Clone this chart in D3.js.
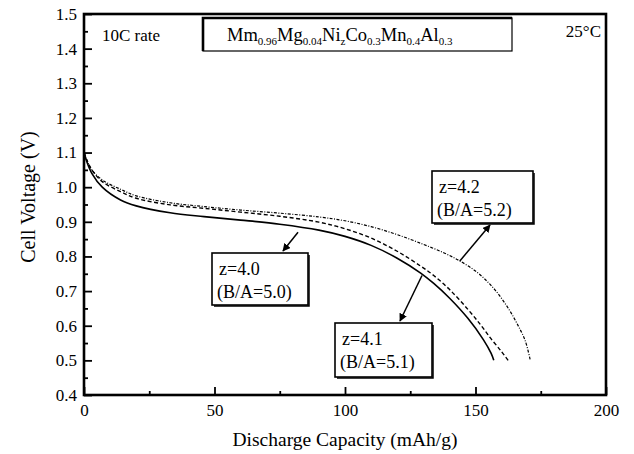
<!DOCTYPE html>
<html>
<head>
<meta charset="utf-8">
<script src="https://cdn.jsdelivr.net/npm/d3@7"></script>
<style>
  body { margin: 0; background: #fff; }
</style>
</head>
<body>
<div id="chart"></div>
<script>
// ------------------------------------------------------------------
//  discharge curves, 10C rate, 25 C
// ------------------------------------------------------------------
const cap_z40 = [0, 1, 3, 7, 14, 20, 33, 46, 60, 75, 90, 100, 110, 120, 129, 134, 140, 147, 153, 156, 157]
const volt_z40 = [1.10, 1.075, 1.04, 1.00, 0.963, 0.946, 0.926, 0.915, 0.905, 0.893, 0.876, 0.858, 0.832, 0.795, 0.752, 0.722, 0.680, 0.622, 0.560, 0.52, 0.50]

const cap_z41 = [0, 1, 3, 7, 14, 20, 33, 46, 60, 75, 90, 100, 110, 120, 129, 134, 140, 147, 152, 156, 160, 162.5]
const volt_z41 = [1.10, 1.08, 1.05, 1.016, 0.987, 0.968, 0.949, 0.939, 0.928, 0.916, 0.899, 0.880, 0.853, 0.815, 0.772, 0.745, 0.705, 0.648, 0.602, 0.562, 0.525, 0.50]

const cap_z42 = [0, 1, 3, 7, 14, 20, 33, 46, 60, 75, 90, 100, 110, 120, 130, 138, 144, 150, 155, 159, 163, 166, 169, 171]
const volt_z42 = [1.10, 1.08, 1.05, 1.021, 0.994, 0.975, 0.955, 0.944, 0.934, 0.925, 0.914, 0.903, 0.886, 0.863, 0.835, 0.810, 0.787, 0.758, 0.724, 0.689, 0.645, 0.605, 0.558, 0.50]

const x_ticks = [0, 50, 100, 150, 200]
const x_minor = [25, 75, 125, 175]
const y_ticks = [0.4, 0.5, 0.6, 0.7, 0.8, 0.9, 1.0, 1.1, 1.2, 1.3, 1.4, 1.5]
const y_minor = [0.45, 0.55, 0.65, 0.75, 0.85, 0.95, 1.05, 1.15, 1.25, 1.35, 1.45]

const series = [
	{name: "z40", cap: cap_z40, volt: volt_z40, dash: null, width: 1.6},
	{name: "z41", cap: cap_z41, volt: volt_z41, dash: "4,2.5", width: 1.4},
	{name: "z42", cap: cap_z42, volt: volt_z42, dash: "3,1.5,1,1.5", width: 1.2}
]

// label boxes: line1, line2, box (px), arrow from curve point (data) to box (px)
const labels = [
	{l1: "z=4.0", l2: "(B/A=5.0)", box: [212, 253, 96, 52], from: [82, 0.870], to: [283, 251]},
	{l1: "z=4.2", l2: "(B/A=5.2)", box: [432, 171, 101, 52], from: [144, 0.787], to: [490, 225]},
	{l1: "z=4.1", l2: "(B/A=5.1)", box: [335, 323, 97, 54], from: [129.5, 0.745], to: [400, 321]}
]

const FONT = "'Liberation Serif', 'Times New Roman', Times, serif"
const W = 634, H = 454
const margin = {top: 14, right: 28, bottom: 59, left: 84}

const svg = d3.select("#chart").append("svg")
	.attr("width", W)
	.attr("height", H)
	.attr("font-family", FONT)

const x = d3.scaleLinear().domain([0, 200]).range([margin.left, W - margin.right])
const y = d3.scaleLinear().domain([0.4, 1.5]).range([H - margin.bottom, margin.top])

// axes, ticks inward
const gx = svg.append("g")
	.attr("transform", "translate(0," + y(0.4) + ")")
	.call(d3.axisBottom(x).tickValues(x_ticks).tickSize(-8).tickPadding(9).tickFormat(d3.format("d")))
gx.append("g").call(d3.axisBottom(x).tickValues(x_minor).tickSize(-4).tickFormat(""))

const gy = svg.append("g")
	.attr("transform", "translate(" + x(0) + ",0)")
	.call(d3.axisLeft(y).tickValues(y_ticks).tickSize(-8).tickPadding(7).tickFormat(d3.format(".1f")))
gy.append("g").call(d3.axisLeft(y).tickValues(y_minor).tickSize(-4).tickFormat(""))

svg.selectAll(".domain").remove()
svg.selectAll("g").attr("font-family", FONT).attr("font-size", 17)
svg.selectAll(".tick line").attr("stroke", "#000").attr("stroke-width", 1.8)
svg.selectAll(".tick text").attr("fill", "#000")

// frame
svg.append("rect")
	.attr("x", x(0)).attr("y", y(1.5))
	.attr("width", x(200) - x(0)).attr("height", y(0.4) - y(1.5))
	.attr("fill", "none").attr("stroke", "#000").attr("stroke-width", 2.6)

// curves
const line = d3.line()
	.x(function(d) { return x(d[0]) })
	.y(function(d) { return y(d[1]) })
	.curve(d3.curveCatmullRom.alpha(0.5))

series.forEach(function(s) {
	svg.append("path")
		.datum(d3.zip(s.cap, s.volt))
		.attr("fill", "none")
		.attr("stroke", "#000")
		.attr("stroke-width", s.width)
		.attr("stroke-dasharray", s.dash)
		.attr("d", line)
})

// arrow marker
svg.append("defs").append("marker")
	.attr("id", "head")
	.attr("viewBox", "0 0 10 10")
	.attr("refX", 9).attr("refY", 5)
	.attr("markerWidth", 8).attr("markerHeight", 8)
	.attr("markerUnits", "userSpaceOnUse")
	.attr("orient", "auto")
	.append("path").attr("d", "M0,0L10,5L0,10z").attr("fill", "#000")

labels.forEach(function(b) {
	const bx = b.box[0], by = b.box[1], bw = b.box[2], bh = b.box[3]
	// shadow on right/bottom
	svg.append("path")
		.attr("d", "M" + (bx + bw + 1) + "," + (by + 2) + "V" + (by + bh + 1) + "H" + (bx + 2))
		.attr("fill", "none").attr("stroke", "#000").attr("stroke-width", 1.5)
	svg.append("rect")
		.attr("x", bx).attr("y", by).attr("width", bw).attr("height", bh)
		.attr("fill", "#fff").attr("stroke", "#000").attr("stroke-width", 1.6)
	svg.append("text").attr("x", bx + 7).attr("y", by + 22)
		.attr("font-size", 18).text(b.l1)
	svg.append("text").attr("x", bx + 5).attr("y", by + 45)
		.attr("font-size", 18).text(b.l2)
	svg.append("line")
		.attr("x1", x(b.from[0])).attr("y1", y(b.from[1]))
		.attr("x2", b.to[0]).attr("y2", b.to[1])
		.attr("stroke", "#000").attr("stroke-width", 1.5)
		.attr("marker-end", "url(#head)")
})

// composition title box
svg.append("rect")
	.attr("x", 203).attr("y", 18).attr("width", 309).attr("height", 33)
	.attr("fill", "#fff").attr("stroke", "#000").attr("stroke-width", 1.2)
svg.append("path")
	.attr("d", "M203,51V18H512")
	.attr("fill", "none").attr("stroke", "#000").attr("stroke-width", 2.6)

const parts = [["Mm", "0.96"], ["Mg", "0.04"], ["Ni", "z"], ["Co", "0.3"], ["Mn", "0.4"], ["Al", "0.3"]]
const title = svg.append("text").attr("x", 227).attr("y", 41).attr("font-size", 18.5)
parts.forEach(function(p, i) {
	title.append("tspan").attr("dy", i === 0 ? 0 : -4).text(p[0])
	title.append("tspan").attr("dy", 4).attr("font-size", 11).text(p[1])
})

svg.append("text").attr("x", 102).attr("y", 41).attr("font-size", 17).text("10C rate")
svg.append("text").attr("x", 601).attr("y", 37).attr("text-anchor", "end").attr("font-size", 17).text("25°C")

// axis titles
svg.append("text")
	.attr("x", x(100)).attr("y", 446)
	.attr("text-anchor", "middle")
	.attr("font-size", 19.5)
	.text("Discharge Capacity (mAh/g)")

svg.append("text")
	.attr("transform", "translate(35,197) rotate(-90)")
	.attr("text-anchor", "middle")
	.attr("font-size", 20)
	.text("Cell Voltage (V)")
</script>
</body>
</html>
